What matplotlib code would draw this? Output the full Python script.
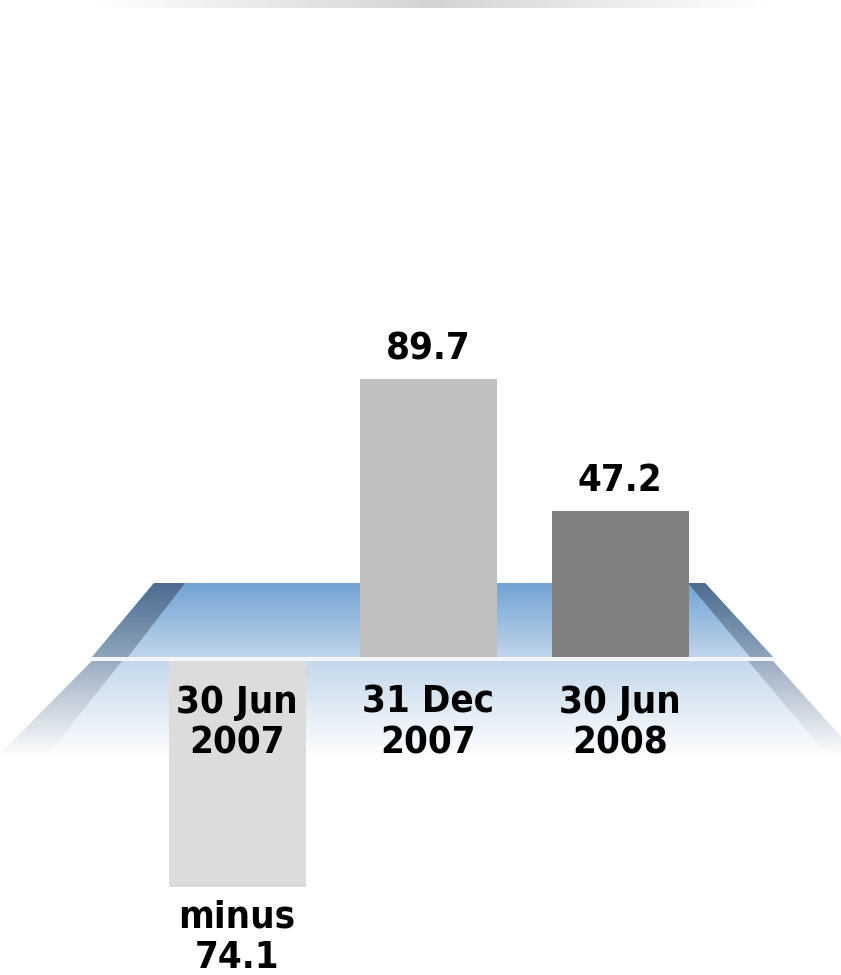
import numpy as np
import matplotlib
matplotlib.use("Agg")
import matplotlib.pyplot as plt
from matplotlib.colors import to_rgb
from matplotlib.patches import Polygon

# data
categories = ["30 Jun\n2007", "31 Dec\n2007", "30 Jun\n2008"]
values = [-74.1, 89.7, 47.2]
value_labels = ["minus\n74.1", "89.7", "47.2"]
bar_colors = ["#dcdcdc", "#c0c0c0", "#808080"]

plt.rcParams["font.family"] = ["DejaVu Sans"]
plt.rcParams["font.stretch"] = "condensed"

W, H = 841, 975
fig = plt.figure(figsize=(W / 100, H / 100), dpi=100)

# background platform, drawn in pixel coordinates
bg = fig.add_axes([0, 0, 1, 1])
bg.set_xlim(0, W)
bg.set_ylim(H, 0)
bg.axis("off")


def grad_poly(ax, verts, c0, c1, vertical=True, mid=None):
    verts = np.array(verts, dtype=float)
    x0, x1 = verts[:, 0].min(), verts[:, 0].max()
    y0, y1 = verts[:, 1].min(), verts[:, 1].max()
    t = np.linspace(0, 1, 256)
    a = np.array(to_rgb(c0))
    if mid is None:
        b = np.array(to_rgb(c1))
        cols = a + (b - a) * t[:, None]
    else:
        m = np.array(to_rgb(mid))
        tt = np.abs(t - 0.5) * 2
        cols = m + (a - m) * tt[:, None]
    img = cols[:, None, :] if vertical else cols[None, :, :]
    im = ax.imshow(img, extent=[x0, x1, y1, y0], aspect="auto",
                   interpolation="bilinear", zorder=1)
    patch = Polygon(verts, closed=True, facecolor="none", edgecolor="none")
    ax.add_patch(patch)
    im.set_clip_path(patch)
    return im


# title strip at the top (text cut off in the original)
grad_poly(bg, [(95, 0), (765, 0), (765, 8), (95, 8)], "#ffffff", None,
          vertical=False, mid="#d4d4d4")

# upper surface
grad_poly(bg, [(154, 583), (705, 583), (773, 657), (92, 657)], "#72a3d3", "#bfd5eb")
grad_poly(bg, [(154, 583), (185, 583), (128, 657), (92, 657)], "#4c6b90", "#8fa4bc")
grad_poly(bg, [(688, 583), (705, 583), (773, 657), (750, 657)], "#4c6b90", "#8fa4bc")

# lower surface
grad_poly(bg, [(92, 661), (773, 661), (841, 737), (841, 758), (0, 758), (0, 754)],
          "#c4d8ec", "#ffffff")
grad_poly(bg, [(92, 661), (122, 661), (45, 758), (0, 758), (0, 754)], "#9cadc1", "#ffffff")
grad_poly(bg, [(748, 661), (773, 661), (841, 737), (841, 758), (830, 758)], "#9cadc1", "#ffffff")

# main axes with the bars
ax = fig.add_axes([0, 0, 1, 1], zorder=2)
ax.patch.set_alpha(0)
px_per_unit = 3.1
zero_px = 657
ax.set_ylim(-(H - zero_px) / px_per_unit, zero_px / px_per_unit)
x0_px, step_px = 237, 191.5
ax.set_xlim(-x0_px / step_px, (W - x0_px) / step_px)
ax.axis("off")

x = np.arange(len(values))
ax.bar(x, values, width=137 / step_px, color=bar_colors, zorder=2)

# thin light line separating the two surfaces
ax.axhspan(-4 / px_per_unit, 0, xmin=90 / W, xmax=776 / W, color="#f3f6fa", zorder=3, lw=0)

fs = 27.5
for xi, v, lab, cat in zip(x, values, value_labels, categories):
    if v >= 0:
        ax.annotate(lab, (xi, v), xytext=(0, 8.5), textcoords="offset points",
                    ha="center", va="bottom", fontsize=fs, fontweight="bold", zorder=4)
    else:
        ax.annotate(lab, (xi, v), xytext=(0, -9), textcoords="offset points",
                    ha="center", va="top", fontsize=fs, fontweight="bold",
                    linespacing=1.17, zorder=4)
    ax.annotate(cat, (xi, 0), xytext=(0, -20), textcoords="offset points",
                ha="center", va="top", fontsize=fs, fontweight="bold",
                linespacing=1.17, zorder=4)

fig.savefig("out.png", dpi=100)
